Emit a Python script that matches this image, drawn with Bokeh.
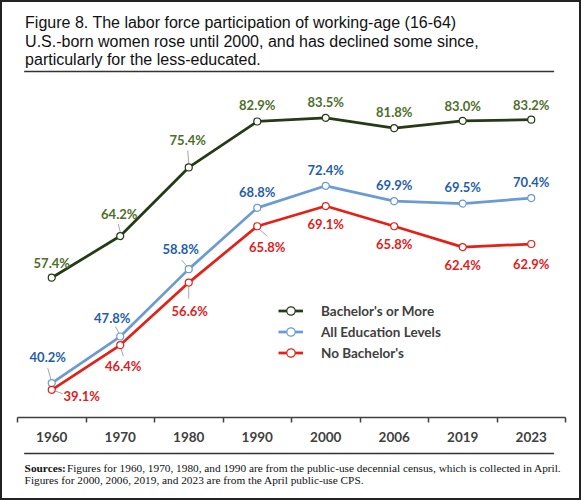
from bokeh.plotting import figure
from bokeh.layouts import column
from bokeh.models import Range1d, FixedTicker, ColumnDataSource
from bokeh.core.properties import value
from bokeh.embed import file_html
from bokeh.resources import INLINE

# ---- data ----
years = ["1960", "1970", "1980", "1990", "2000", "2006", "2019", "2023"]
bachelor = [57.4, 64.2, 75.4, 82.9, 83.5, 81.8, 83.0, 83.2]
all_levels = [40.2, 47.8, 58.8, 68.8, 72.4, 69.9, 69.5, 70.4]
no_bachelor = [39.1, 46.4, 56.6, 65.8, 69.1, 65.8, 62.4, 62.9]
series_names = ["Bachelor's or More", "All Education Levels", "No Bachelor's"]

title_lines = [
    "Figure 8. The labor force participation of working-age (16-64)",
    "U.S.-born women rose until 2000, and has declined some since,",
    "particularly for the less-educated.",
]
source_head = "Sources:"
source_lines = [
    "Figures for 1960, 1970, 1980, and 1990 are from the public-use decennial census, which is collected in April.",
    "Figures for 2000, 2006, 2019, and 2023 are from the April public-use CPS.",
]

# ---- label placement (pixel offsets from points; style only) ----
bach_dx = [0, -1, -1, 0, 0, 0, 0, 0]
bach_dy = [-15, -22, -27, -16, -16, -16, -15, -15]
all_dx = [-4, -8, -8, 0, 0, 0, 0, 0]
all_dy = [-26, -19, -20, -16, -16, -16.5, -16.5, -16.5]
no_dx = [30, 3, 1, 10, 0, 0, 0, 0]
no_dy = [6, 21, 28, 21, 18, 18, 18, 20]
# leader lines: (series, index, px offsets x0, y0, x1, y1; y down)
leaders = [
    (0, 1, -2, -12, 0, -4), (0, 2, -1, -17, 0, -4),
    (1, 0, -4, -15, -1, -4), (1, 1, -5, -10, -1, -3), (1, 2, -7, -9, -2, -3),
    (2, 0, 3, 1, 11, 4), (2, 1, 1, 4, 3, 11), (2, 2, 0, 4, 0, 16), (2, 3, 2, 3, 10, 10),
]

IW = 577          # inner width (inside 2px border)
TOP_H, MAIN_H, BOT_H = 71, 378, 47
FL, FR, FT, FB = 15, 14, 4, 34
YMIN, YMAX = 34.58, 90.08

n = len(years)
xs = [i + 0.5 for i in range(n)]
px_x = (IW - FL - FR) / n
px_y = (MAIN_H - FT - FB) / (YMAX - YMIN)


def decor(h):
    f = figure(width=IW, height=h, output_backend="svg", toolbar_location=None,
               x_range=Range1d(0, IW), y_range=Range1d(h, 0),
               x_axis_location=None, y_axis_location=None, min_border=0)
    f.title.visible = False
    f.grid.visible = False
    f.outline_line_color = None
    f.background_fill_color = "white"
    f.border_fill_color = "white"
    return f


# ---- title ----
top = decor(TOP_H)
top.text(x=[8] * len(title_lines), y=[20 + 18.6 * i for i in range(len(title_lines))],
         text=title_lines, text_font=value("Liberation Sans"), text_font_size="16px",
         text_color="#111111", text_baseline="alphabetic", text_align="left")
top.segment(x0=[7], y0=[69], x1=[565], y1=[69], line_color="#333333", line_width=1.5)

# ---- main chart ----
p = figure(width=IW, height=MAIN_H, output_backend="svg", toolbar_location=None,
           x_range=Range1d(0, n), y_range=Range1d(YMIN, YMAX),
           y_axis_location=None,
           min_border_left=FL, min_border_right=FR,
           min_border_top=FT, min_border_bottom=FB)
p.title.visible = False
p.grid.visible = False
p.outline_line_color = None
p.background_fill_color = "white"
p.border_fill_color = "white"

ax = p.xaxis[0]
ax.ticker = FixedTicker(ticks=xs, minor_ticks=list(range(n + 1)))
ax.major_label_overrides = {x: y for x, y in zip(xs, years)}
ax.major_tick_line_color = None
ax.major_tick_out = 0
ax.major_tick_in = 0
ax.minor_tick_out = 5
ax.minor_tick_in = 0
ax.minor_tick_line_color = "#404040"
ax.minor_tick_line_width = 1.5
ax.axis_line_color = "#404040"
ax.axis_line_width = 1.5
ax.major_label_standoff = 9
ax.major_label_text_font = "Lato"
ax.major_label_text_font_style = "bold"
ax.major_label_text_font_size = "13.5px"
ax.major_label_text_color = "#404040"

series = [bachelor, all_levels, no_bachelor]
specs = [
    ("#243b15", "#4e6e2a", bach_dx, bach_dy),
    ("#6b9bd2", "#1f5eaa", all_dx, all_dy),
    ("#e32119", "#e0201c", no_dx, no_dy),
]

# leader lines (drawn first, beneath the markers)
lx0, ly0, lx1, ly1 = [], [], [], []
for s, i, a, b, c, d in leaders:
    v = series[s][i]
    lx0.append(xs[i] + a / px_x); ly0.append(v - b / px_y)
    lx1.append(xs[i] + c / px_x); ly1.append(v - d / px_y)
p.segment(x0=lx0, y0=ly0, x1=lx1, y1=ly1, line_color="#a6a6a6", line_width=1)

for vals, (lc, tc, dx, dy), name in zip(series, specs, series_names):
    src = ColumnDataSource(dict(x=xs, y=vals, lab=[f"{v:.1f}%" for v in vals], dx=dx, dy=dy))
    p.line("x", "y", source=src, line_color=lc, line_width=2.75, legend_label=name)
    p.scatter("x", "y", source=src, marker="circle", size=7, fill_color="white",
              line_color=lc, line_width=1.2, legend_label=name)
    p.text("x", "y", text="lab", source=src, x_offset="dx", y_offset="dy",
           text_align="center", text_baseline="middle", text_font=value("Lato"),
           text_font_style="bold", text_font_size="13px", text_color=tc)

lg = p.legend[0]
lg.location = (261, 54)
lg.padding = 0
lg.margin = 0
lg.spacing = 0
lg.glyph_width = 25
lg.glyph_height = 21
lg.label_height = 21
lg.label_standoff = 18
lg.label_text_font = "Lato"
lg.label_text_font_style = "bold"
lg.label_text_font_size = "13.5px"
lg.label_text_color = "#404040"
lg.border_line_color = None
lg.background_fill_alpha = 0

# ---- sources ----
bot = decor(BOT_H)
bot.segment(x0=[7], y0=[2], x1=[565], y1=[2], line_color="#333333", line_width=1.5)
bot.text(x=[7.5], y=[16.3], text=[source_head], text_font=value("Liberation Serif"),
         text_font_style="bold", text_font_size="11.3px", text_color="#111111",
         text_baseline="alphabetic")
bot.text(x=[52, 7.5], y=[16.3, 28.3], text=source_lines, text_font=value("Liberation Serif"),
         text_font_size="11.3px", text_color="#111111", text_baseline="alphabetic")

layout = column(top, p, bot, spacing=0, styles={"border": "2px solid #222222"})
open("out.html", "w").write(file_html(layout, INLINE))
